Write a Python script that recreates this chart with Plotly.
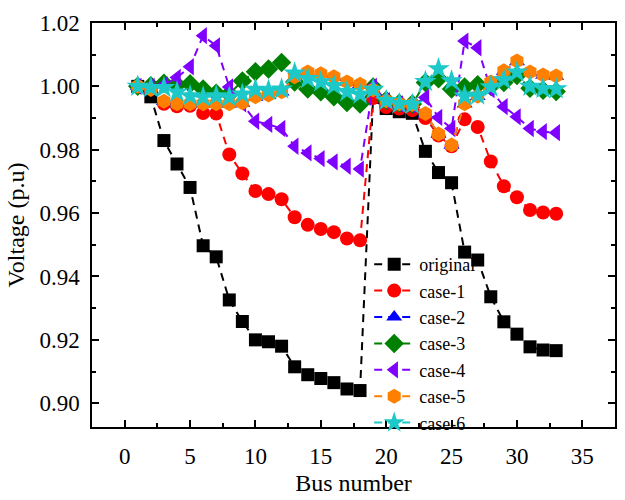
import plotly.graph_objects as go

# Bus voltage profiles for the 33-bus feeder
bus = list(range(1, 34))

original = [1.000, 0.9967, 0.9829, 0.9755, 0.9681, 0.9497, 0.9462, 0.9326, 0.9258, 0.9200,
            0.9194, 0.9180, 0.9115, 0.9090, 0.9078, 0.9065, 0.9045, 0.9040, 0.9965, 0.9930,
            0.9920, 0.9915, 0.9795, 0.9728, 0.9696, 0.9477, 0.9452, 0.9336, 0.9257, 0.9218,
            0.9178, 0.9168, 0.9166]

case1 = [1.000, 0.9993, 0.9945, 0.9937, 0.9939, 0.9916, 0.9914, 0.9785, 0.9725, 0.9670,
         0.9660, 0.9644, 0.9587, 0.9563, 0.9550, 0.9540, 0.9520, 0.9514, 0.9963, 0.9935,
         0.9930, 0.9925, 0.9900, 0.9845, 0.9811, 0.9896, 0.9872, 0.9763, 0.9685, 0.9650,
         0.9610, 0.9602, 0.9598]

case2 = [1.000, 0.9989, 0.9952, 0.9944, 0.9944, 0.9944, 0.9944, 0.9944, 0.9947, 0.9966,
         0.9972, 0.9982, 1.0028, 1.0043, 1.0039, 1.0028, 1.0013, 1.0006, 0.9988, 0.9954,
         0.9944, 0.9942, 0.9913, 0.9849, 0.9814, 0.9944, 0.9968, 1.0013, 1.0048, 1.0078,
         1.0043, 1.0035, 1.0032]

case3 = [1.000, 1.0002, 1.0010, 1.0005, 1.0008, 0.9992, 0.9978, 0.9976, 1.0017, 1.0046,
         1.0055, 1.0075, 1.0014, 0.9992, 0.9983, 0.9967, 0.9949, 0.9944, 0.9998, 0.9956,
         0.9947, 0.9944, 1.0012, 1.0024, 0.9992, 0.9998, 1.0005, 1.0000, 1.0012, 1.0034,
         0.9994, 0.9988, 0.9984]

case4 = [1.000, 1.0000, 1.0005, 1.0028, 1.0062, 1.0160, 1.0128, 0.9998, 0.9945, 0.9890,
         0.9880, 0.9867, 0.9811, 0.9790, 0.9772, 0.9762, 0.9748, 0.9739, 1.0000, 0.9955,
         0.9945, 0.9940, 0.9965, 0.9902, 0.9867, 1.0143, 1.0122, 0.9990, 0.9936, 0.9904,
         0.9867, 0.9857, 0.9854]

case5 = [1.000, 0.9990, 0.9953, 0.9945, 0.9945, 0.9945, 0.9945, 0.9945, 0.9948, 0.9967,
         0.9973, 0.9983, 1.0030, 1.0045, 1.0040, 1.0030, 1.0014, 1.0007, 0.9989, 0.9955,
         0.9945, 0.9943, 0.9914, 0.9850, 0.9815, 0.9945, 0.9969, 1.0014, 1.0049, 1.0080,
         1.0045, 1.0036, 1.0033]

case6 = [1.000, 0.9996, 0.9996, 0.9982, 0.9970, 0.9966, 0.9970, 0.9966, 0.9975, 0.9990,
         0.9987, 0.9991, 1.0042, 1.0024, 1.0014, 1.0002, 0.9983, 0.9975, 0.9990, 0.9955,
         0.9945, 0.9943, 1.0015, 1.0055, 1.0017, 0.9969, 0.9972, 0.9998, 1.0020, 1.0045,
         1.0000, 0.9993, 0.9992]

names = ["original", "case-1", "case-2", "case-3", "case-4", "case-5", "case-6"]
series = [original, case1, case2, case3, case4, case5, case6]
colors = ["#000000", "#FF0000", "#0000FF", "#008000", "#8000FF", "#FF8000", "#1CC8C8"]
symbols = ["square", "circle", "triangle-up", "diamond", "triangle-left", "hexagon", "star"]
sizes = [13, 14, 14, 15, 15, 15, 17]

fig = go.Figure()
for name, vals, col, sym, sz in zip(names, series, colors, symbols, sizes):
    fig.add_trace(go.Scatter(
        x=bus, y=vals, name=name, mode="lines+markers",
        line=dict(color=col, width=2, dash="8px,6px"),
        marker=dict(symbol=sym, size=sz, color=col, line=dict(width=0)),
    ))

font_family = "Liberation Serif, Times New Roman, serif"
axis_common = dict(
    showline=True, linecolor="black", linewidth=1.5, mirror="ticks",
    ticks="inside", ticklen=7, tickwidth=1.5, tickcolor="black",
    showgrid=False, zeroline=False,
    tickfont=dict(family=font_family, size=23, color="black"),
)

fig.update_xaxes(
    range=[-2.5, 37.5], dtick=5, tick0=0, ticklabelstandoff=8,
    minor=dict(dtick=2.5, ticks="inside", ticklen=4, tickcolor="black", tickwidth=1.5),
    title=dict(text="Bus number", font=dict(family=font_family, size=24, color="black"), standoff=6),
    **axis_common,
)
fig.update_yaxes(
    range=[0.8925, 1.02], dtick=0.02, tick0=0.90, tickformat=".2f",
    ticklabelstandoff=6,
    minor=dict(dtick=0.01, ticks="inside", ticklen=4, tickcolor="black", tickwidth=1.5),
    title=dict(text="Voltage (p.u)", font=dict(family=font_family, size=24, color="black"), standoff=8),
    **axis_common,
)

fig.update_layout(
    width=625, height=500,
    margin=dict(l=92, r=8, t=23, b=71),
    paper_bgcolor="white", plot_bgcolor="white",
    showlegend=True,
    legend=dict(
        x=0.53, y=0.448, xanchor="left", yanchor="top",
        bgcolor="rgba(0,0,0,0)", borderwidth=0,
        font=dict(family=font_family, size=18, color="black"),
        tracegroupgap=0, itemwidth=40,
    ),
)

fig.write_html("out.html")
